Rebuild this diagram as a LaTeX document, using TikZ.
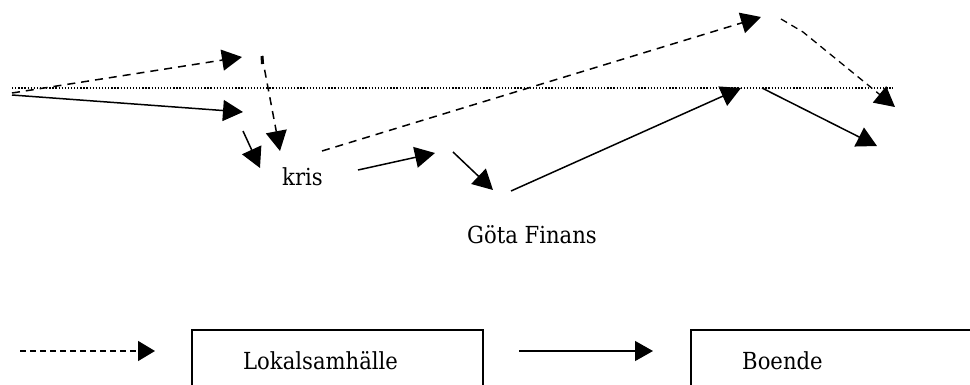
\documentclass[tikz,border=0pt]{standalone}
\usepackage{fontspec}
\setmainfont{DejaVu Serif}[FakeStretch=0.9]
\usetikzlibrary{arrows.meta}
\tikzset{
  bigtip/.style={-{Triangle[length=20pt,width=21pt]}},
  solidarrow/.style={bigtip, line width=1.5pt},
  dasharrow/.style={bigtip, line width=1.5pt, dash pattern=on 8pt off 6pt},
  finedash/.style={bigtip, line width=1.3pt, dash pattern=on 7pt off 5pt},
  lbl/.style={font=\fontsize{23.5}{28}\selectfont, inner sep=0pt, anchor=base west},
  framebox/.style={draw, line width=1.5pt}
}
\begin{document}
\begin{tikzpicture}[x=1pt,y=-1pt]
\useasboundingbox (0,0) rectangle (970,384);
\clip (0,0) rectangle (970,384);
% coordinates
\coordinate (o) at (12,93);
\coordinate (o2) at (12,95);
\coordinate (a1) at (242,57);
\coordinate (a2) at (243,112);
\coordinate (v1) at (262,56);
\coordinate (v2) at (280,151);
\coordinate (s1) at (243,131);
\coordinate (s2) at (260,168);
\coordinate (d1) at (322,151);
\coordinate (d2) at (761,17);
\coordinate (k1) at (358,170);
\coordinate (k2) at (435,153);
\coordinate (m1) at (453,152);
\coordinate (m2) at (493,190);
\coordinate (g1) at (511,191);
\coordinate (g2) at (741,88);
\coordinate (e1) at (781,19);
\coordinate (e2) at (803,32);
\coordinate (e3) at (895,107);
\coordinate (f1) at (762,88);
\coordinate (f2) at (877,146);
\coordinate (h1) at (12,88);
\coordinate (h2) at (893,88);
\coordinate (b1) at (20,351);
\coordinate (b2) at (155,351);
\coordinate (c1) at (519,351);
\coordinate (c2) at (653,351);
% dotted line
\draw[line width=1.4pt, dash pattern=on 1.3pt off 1.8pt] (h1) -- (h2);
% texts
\node[lbl] (kris) at (282,185) {kris};
\node[lbl] (gota) at (467,243) {Göta Finans};
% boxes
\draw[framebox] (192,400) -- (192,330) -- (483,330) -- (483,400);
\node[lbl] (lok) at (243,369) {Lokalsamhälle};
\draw[framebox] (691,400) -- (691,330) -- (990,330);
\node[lbl] (boe) at (742,369) {Boende};
% arrows
\draw[dasharrow] (o) -- (a1);
\draw[solidarrow] (o2) -- (a2);
\draw[dasharrow] (v1) -- (v2);
\draw[line width=3pt] (262,56) -- (262.5,64);
\draw[solidarrow] (s1) -- (s2);
\draw[dasharrow] (d1) -- (d2);
\draw[solidarrow] (k1) -- (k2);
\draw[solidarrow] (m1) -- (m2);
\draw[solidarrow] (g1) -- (g2);
\draw[finedash] (e1) -- (e2) -- (e3);
\draw[solidarrow] (f1) -- (f2);
\draw[-{Triangle[length=17pt,width=20pt]}, line width=1.3pt, dash pattern=on 6pt off 4pt] (b1) -- (b2);
\draw[-{Triangle[length=18pt,width=20pt]}, line width=1.3pt] (c1) -- (c2);
\end{tikzpicture}
\end{document}
